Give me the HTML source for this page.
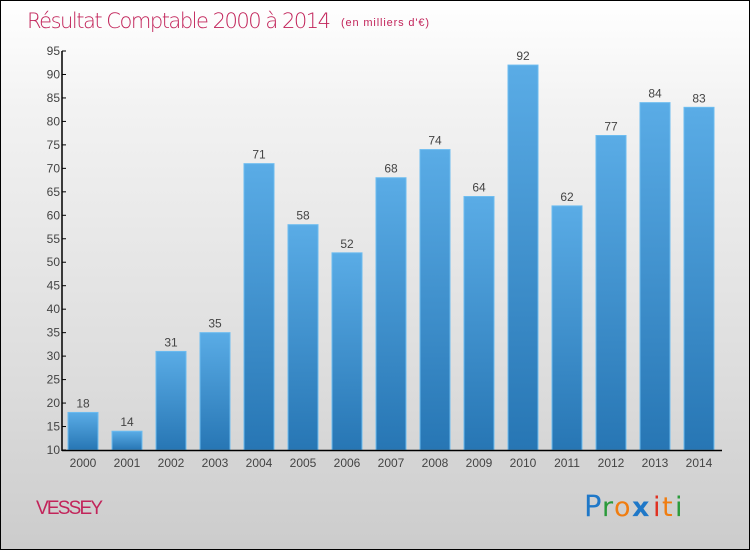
<!DOCTYPE html>
<html><head><meta charset="utf-8"><style>
body{margin:0}
#c{position:relative;width:748px;height:548px;border:1px solid #000;background:linear-gradient(#ffffff,#f2f2f2 20%,#dcdcdc 70%,#cccccc);font-family:"Liberation Sans","DejaVu Sans",sans-serif;overflow:hidden}
</style></head><body>
<div id="c">
<svg width="748" height="548" style="position:absolute;left:0;top:0">
<defs><linearGradient id="g" x1="0" y1="0" x2="0" y2="1"><stop offset="0" stop-color="#5aace6"/><stop offset="1" stop-color="#2776b4"/></linearGradient></defs>
<text x="26" y="27" font-size="21" fill="#c2245a" style="font-family:'DejaVu Sans',sans-serif;font-weight:200" textLength="304">Résultat Comptable 2000 à 2014</text>
<text x="340" y="25" font-size="11" fill="#c2245a" textLength="88">(en milliers d'€)</text>
<g id="plot"></g>
<text x="35" y="513" font-size="19" fill="#c2245a" textLength="67">VESSEY</text>
<g font-size="27" font-family="'DejaVu Sans',sans-serif">
<text x="583" y="515" fill="#1f78c8" font-size="29">P</text>
<text x="601" y="515" fill="#2a9a3a">r</text>
<text x="613" y="515" fill="#f07d10">o</text>
<text x="631" y="515" fill="#1f78c8" font-weight="bold">x</text>
<text x="652" y="515" fill="#e03020">i</text>
<text x="661" y="515" fill="#f07d10">t</text>
<text x="674" y="515" fill="#2a9a3a">i</text>
</g>
</svg>
</div>
<script>
const years=["2000","2001","2002","2003","2004","2005","2006","2007","2008","2009","2010","2011","2012","2013","2014"];
const values=[18,14,31,35,71,58,52,68,74,64,92,62,77,84,83];
const yTicks=[10,15,20,25,30,35,40,45,50,55,60,65,70,75,80,85,90,95];
const ns="http://www.w3.org/2000/svg";
const g=document.getElementById('plot');
const y0=449,y1=50,vmin=10,vmax=95,x0=61,x1=721;
const y=v=>y0-(v-vmin)/(vmax-vmin)*(y0-y1);
const step=44,first=82,bw=30;
const x=i=>first+i*step;
function mk(t,a){const e=document.createElementNS(ns,t);for(const k in a)e.setAttribute(k,a[k]);g.appendChild(e);return e;}
values.forEach((v,i)=>{
 const r=mk('rect',{x:x(i)-bw/2,y:y(v),width:bw,height:y0-y(v),fill:'url(#g)',stroke:'#6cbcf0','stroke-width':1});
 
 
 const t=mk('text',{x:x(i),y:y(v)-5,'text-anchor':'middle','font-size':12,fill:'#444'});
 t.textContent=v;
 
 
 const yl=mk('text',{x:x(i),y:466,'text-anchor':'middle','font-size':12,fill:'#444'});
 yl.textContent=years[i];
 
 
});
yTicks.forEach(v=>{
 const l=mk('line',{x1:x0,x2:x0+4,y1:y(v),y2:y(v),stroke:'#000'});
 
 
 const t=mk('text',{x:x0-2,y:y(v)+4,'text-anchor':'end','font-size':12,fill:'#444'});
 t.textContent=v;
 
 
});
const ya=mk('line',{x1:x0,x2:x0,y1:y1,y2:y0+1,stroke:'#000','stroke-width':1.5});


const xa=mk('line',{x1:x0,x2:x1,y1:y0+0.5,y2:y0+0.5,stroke:'#000','stroke-width':1.5});


</script>
</body></html>
